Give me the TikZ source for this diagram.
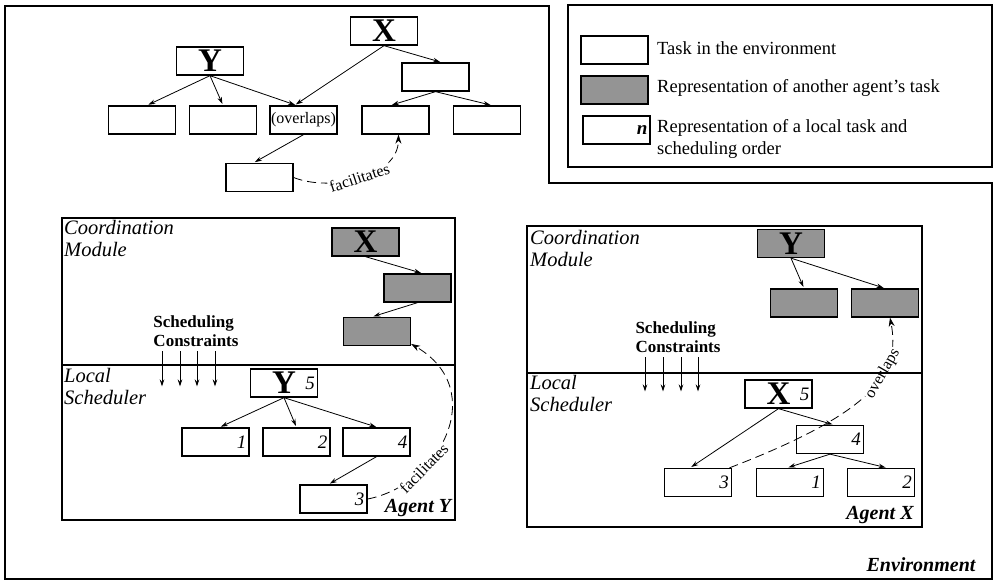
\documentclass[tikz,border=0pt]{standalone}
\usepackage{fontspec}
\setmainfont{Liberation Serif}
\usetikzlibrary{arrows.meta,backgrounds}

\begin{document}
\begin{tikzpicture}[
  x=1pt, y=-1pt, % Pixelraster, y nach unten
  task/.style={draw, line width=1.3pt, minimum width=67pt, minimum height=28pt,
    inner sep=0pt, font=\fontsize{16}{18}\selectfont},
  other/.style={task, fill=black!42},
  num/.style={anchor=east, inner sep=3pt, font=\fontsize{19}{20}\selectfont\itshape},
  local/.style={task, label={[num]east:#1}},
  big/.style={font=\fontsize{33}{33}\selectfont\bfseries},
  arr/.style={-{Stealth[length=7pt,width=4.5pt]}, line width=0.8pt, shorten >=1.5pt},
  rel/.style={-{Stealth[length=9pt,width=6pt]}, dash pattern=on 9pt off 5pt, line width=0.8pt},
  rellabel/.style={sloped, fill=white, inner sep=1pt, font=\fontsize{16}{18}\selectfont},
  frame/.style={line width=1.6pt},
  modul/.style={anchor=north west, align=left, inner sep=0pt, font=\fontsize{20.5}{22}\selectfont\itshape},
  constr/.style={align=left, inner sep=0pt, font=\fontsize{17}{19}\selectfont\bfseries},
  agent/.style={inner sep=0pt, font=\fontsize{20}{22}\selectfont\bfseries\itshape},
  legtext/.style={anchor=west, align=left, inner sep=0pt, font=\fontsize{18.5}{22}\selectfont}
  ]
\useasboundingbox (0,0) rectangle (1000,584);
% Umgebung und Legende
\draw[frame] (5,6) -- (549,6) -- (549,183) -- (992,183) -- (992,579) -- (5,579) -- cycle;
\draw[frame] (568,5) rectangle (992,167);
\node[task] (la) at (614.5,50) {};
\node[other] (lb) at (614.5,90) {};
\node[local=\bfseries n] (lc) at (616.5,130) {};
\node[legtext] (lat) at (657,48) {Task in the environment};
\node[legtext] (lbt) at (657,88) {Representation of another agent's task};
\node[legtext] (lct) at (657,139) {Representation of a local task and\\scheduling order};
\node[agent] (env) at (921,565) {Environment};

% Aufgaben in der Umgebung
\node[task,big] (ty) at (210,61) {Y};
\node[task,big] (tx) at (384,31) {X};
\node[task] (ta) at (142,120) {};
\node[task] (tb) at (223,120) {};
\node[task] (tc) at (303.5,120) {(overlaps)};
\node[task] (tx1) at (435.5,77) {};
\node[task] (td) at (395.5,120) {};
\node[task] (te) at (487,120) {};
\node[task] (tf) at (259.5,177.5) {};
\draw[arr] (ty.south) -- ([xshift=5pt]ta.north);
\draw[arr] (ty.south) -- (tb.north);
\draw[arr] (ty.south) -- ([xshift=-7pt]tc.north);
\draw[arr] (tx.south) -- ([xshift=-9pt]tc.north);
\draw[arr] (tx.south) -- ([xshift=6pt]tx1.north);
\draw[arr] (tx1.south) -- ([xshift=-5pt]td.north);
\draw[arr] (tx1.south) -- ([xshift=5pt]te.north);
\draw[arr] (tc.south) -- ([xshift=-6pt]tf.north);

% Agent Y
\draw[frame] (62,218) rectangle (455,520);
\draw[frame] (62,365) -- (455,365);
\node[modul] (cmy) at (64,220) {Coordination\\Module};
\node[modul] (lsy) at (64,368) {Local\\Scheduler};
\node[other,big] (cyx) at (365.5,242) {X};
\node[other] (cy1) at (417.5,288) {};
\node[other] (cy2) at (377,331.5) {};
\draw[arr] (cyx.south) -- ([xshift=5pt]cy1.north);
\draw[arr] (cy1.south) -- ([xshift=-5pt]cy2.north);
\node[constr] (scy) at (196,331.5) {Scheduling\\Constraints};
\foreach \x in {162,180,197,215}
  \draw[arr] (\x,351) -- (\x,388);
\node[local=5,big] (ly) at (284,383) {Y};
\node[local=1] (ly1) at (215.5,442) {};
\node[local=2] (ly2) at (296.5,442) {};
\node[local=4] (ly4) at (376.5,442) {};
\node[local=3] (ly3) at (333.5,499) {};
\draw[arr] (ly.south) -- ([xshift=4pt]ly1.north);
\draw[arr] (ly.south) -- (ly2.north);
\draw[arr] (ly.south) -- ([xshift=1pt]ly4.north);
\draw[arr] (ly4.south) -- ([xshift=-5pt]ly3.north);
\node[agent] (agy) at (418,508) {Agent Y};

% Agent X
\draw[frame] (527,226) rectangle (922,527);
\draw[frame] (527,373) -- (922,373);
\node[modul] (cmx) at (530,230) {Coordination\\Module};
\node[modul] (lsx) at (530,375) {Local\\Scheduler};
\node[other,big] (cxy) at (791,243.5) {Y};
\node[other] (cx1) at (804,303) {};
\node[other] (cx2) at (885,303) {};
\draw[arr] (cxy.south) -- (cx1.north);
\draw[arr] (cxy.south) -- (cx2.north);
\node[constr] (scx) at (678,337) {Scheduling\\Constraints};
\foreach \x in {645,663,681,698}
  \draw[arr] (\x,357) -- (\x,393);
\node[local=5,big] (lx) at (778.5,394) {X};
\node[local=4] (lx4) at (830,439.5) {};
\node[local=3] (lx3) at (698,482.5) {};
\node[local=1] (lx1) at (790,482.5) {};
\node[local=2] (lx2) at (881,482.5) {};
\draw[arr] (lx.south) -- ([xshift=4pt]lx4.north);
\draw[arr] (lx.south) -- ([xshift=-8pt]lx3.north);
\draw[arr] (lx4.south) -- ([xshift=-3pt]lx1.north);
\draw[arr] (lx4.south) -- ([xshift=6pt]lx2.north);
\node[agent] (agx) at (880,515) {Agent X};

% Beziehungen (unter den Rahmen)
\begin{pgfonlayer}{background}
\draw[rel] (tf.east) .. controls (330,192) and (398,178) .. ([xshift=3pt]td.south)
  node[pos=0.5, rellabel] {facilitates};
\draw[rel] (ly3.east) .. controls (440,485) and (490,390) .. (cy2.-20)
  node[pos=0.3, rellabel] {facilitates};
\draw[rel] (lx3.25) .. controls (880,410) and (900,370) .. ([xshift=5pt]cx2.south)
  node[pos=0.62, rellabel] {overlaps};
\end{pgfonlayer}

\end{tikzpicture}
\end{document}
